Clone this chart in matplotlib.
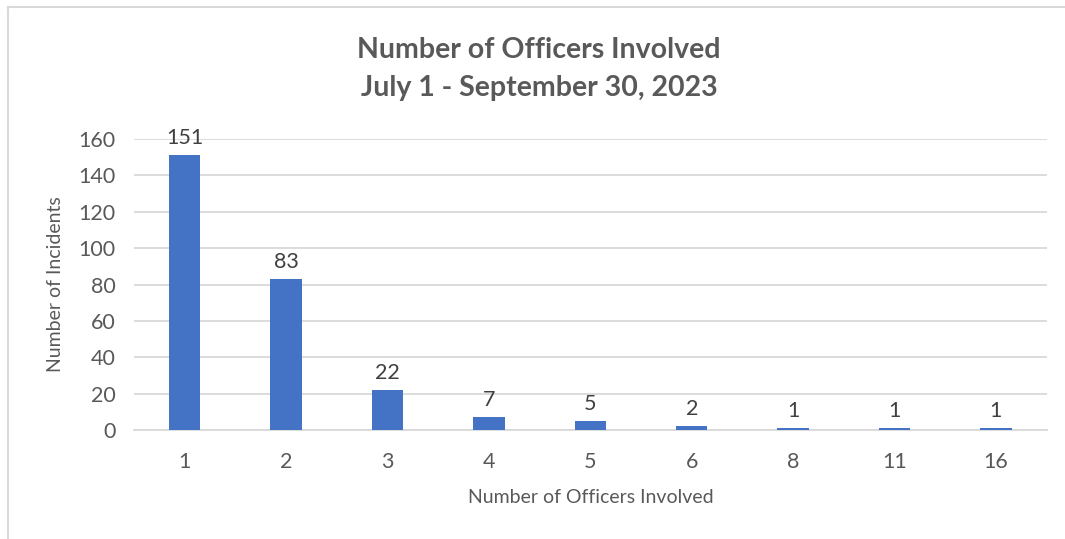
import matplotlib.pyplot as plt
from matplotlib.lines import Line2D

officers = ["1", "2", "3", "4", "5", "6", "8", "11", "16"]
incidents = [151, 83, 22, 7, 5, 2, 1, 1, 1]
y_ticks = [0, 20, 40, 60, 80, 100, 120, 140, 160]

plt.rcParams["font.family"] = ["Lato", "DejaVu Sans"]
text_color = "#595959"
grid_color = "#d9d9d9"

fig = plt.figure(figsize=(10.65, 5.39), dpi=100)
ax = fig.add_axes([0.1258, 0.2022, 0.857, 0.5398])

x = list(range(len(officers)))
bars = ax.bar(x, incidents, 0.31, color="#4472c4", zorder=3)
ax.bar_label(bars, padding=5, fontsize=15.5, color="#404040")

ax.set_xlim(-0.5, len(officers) - 0.5)
ax.set_ylim(0, 160)
ax.set_yticks(y_ticks)
ax.set_xticks(x)
ax.set_xticklabels(officers)
ax.tick_params(axis="both", length=0, labelsize=15.5, labelcolor=text_color)
ax.tick_params(axis="x", pad=16)
ax.tick_params(axis="y", pad=13)
ax.grid(axis="y", color=grid_color, linewidth=1.3, zorder=0)
for s in ["top", "right", "left"]:
    ax.spines[s].set_visible(False)
ax.spines["bottom"].set_color(grid_color)
ax.spines["bottom"].set_linewidth(1.3)

ax.set_xlabel("Number of Officers Involved", fontsize=14, color=text_color, labelpad=12)
ax.set_ylabel("Number of Incidents", fontsize=14, color=text_color)
ax.yaxis.set_label_coords(-0.077, 0.5)

fig.text(0.506, 0.908, "Number of Officers Involved", ha="center", va="center",
         fontsize=20.5, fontweight="bold", color=text_color)
fig.text(0.506, 0.836, "July 1 - September 30, 2023", ha="center", va="center",
         fontsize=20.5, fontweight="bold", color=text_color)

# light frame of the chart area
fig.add_artist(Line2D([8 / 1065, 8 / 1065], [0, 1 - 7 / 539], color=grid_color, linewidth=1.5))
fig.add_artist(Line2D([8 / 1065, 1], [1 - 7 / 539, 1 - 7 / 539], color=grid_color, linewidth=1.5))

plt.savefig("out.png", dpi=100)
